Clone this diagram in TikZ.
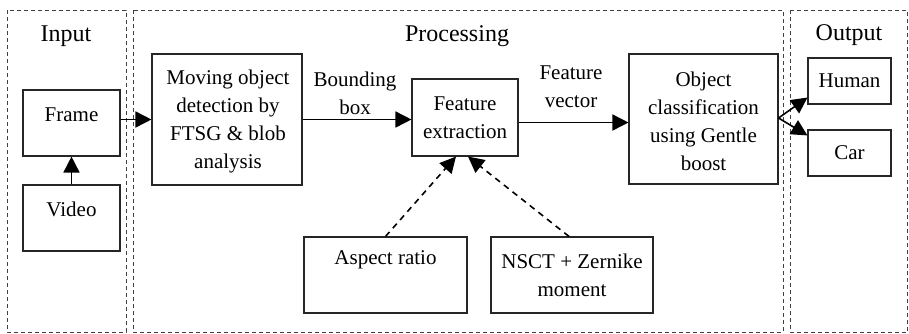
\documentclass[tikz,border=0pt]{standalone}
\usepackage{fontspec}
\setmainfont{Liberation Serif}
\usetikzlibrary{arrows.meta,calc}
\begin{document}
\begin{tikzpicture}[x=1pt,y=1pt,
  stage/.style={draw=black!75,line width=0.8pt,dash pattern=on 4pt off 3pt},
  box/.style={draw=black!85,line width=1.1pt,rectangle,inner sep=0pt,align=center,
    font=\fontsize{21}{28}\selectfont},
  txt/.style={inner sep=0pt,align=center,font=\fontsize{21}{28}\selectfont},
  title/.style={inner sep=0pt,font=\fontsize{24}{28}\selectfont},
  tip/.tip={Triangle[length=16pt,width=16pt]},
  arr/.style={line width=1.6pt,-tip},
  darr/.style={arr,dash pattern=on 6pt off 5pt}]
\useasboundingbox (0,0) rectangle (909,-333);

% stage frames
\draw[stage] (7,-10) rectangle (126,-332);
\draw[stage] (133,-10) rectangle (783,-332);
\draw[stage] (790,-10) rectangle (907.5,-332);
\node[title] (tin) at (66,-36) {Input};
\node[title] (tproc) at (457,-36) {Processing};
\node[title] (tout) at (849,-35) {Output};

% input
\node[box,minimum width=97pt,minimum height=66pt] (frame) at (71.5,-123) {};
\node[txt] (frameT) at (71.5,-115) {Frame};
\node[box,minimum width=97pt,minimum height=66pt] (video) at (71.5,-218) {};
\node[txt] (videoT) at (71.5,-209) {Video};

% processing
\node[box,minimum width=150pt,minimum height=131pt] (mod) at (227,-119.5) {};
\node[txt] (modT) at (228,-121) {Moving object\\detection by\\FTSG \& blob\\analysis};
\node[box,minimum width=106pt,minimum height=77pt] (fe) at (465,-117.5) {};
\node[txt] (feT) at (465,-118) {Feature\\extraction};
\node[box,minimum width=149pt,minimum height=130pt] (oc) at (703.5,-119) {};
\node[txt] (ocT) at (703.5,-121) {Object\\classification\\using Gentle\\boost};
\node[box,minimum width=163pt,minimum height=76pt] (aspect) at (385.5,-275) {};
\node[txt] (aspectT) at (385.5,-260) {Aspect ratio};
\node[box,minimum width=162pt,minimum height=76pt] (nsct) at (572,-275)
  {NSCT + Zernike\\moment};

% output
\node[box,minimum width=83pt,minimum height=46pt] (human) at (849.5,-81) {Human};
\node[box,minimum width=83pt,minimum height=46pt] (car) at (849.5,-153) {Car};

% edge labels
\node[txt] (lbb) at (355,-93) {Bounding\\box};
\node[txt] (lfv) at (571,-87) {Feature\\vector};

% connectors
\draw[arr] (video.north) -- (frame.south);
\draw[arr] (frame.east |- mod.west) -- (mod.west);
\draw[arr] (mod.east) -- (mod.east -| fe.west);
\draw[arr] ([yshift=-5pt]fe.east) -- ([yshift=-5pt]fe.east -| oc.west);
\draw[darr] (aspect.north) -- ([xshift=-9pt]fe.south);
\draw[darr] ([xshift=-3pt]nsct.north) -- ([xshift=3pt]fe.south);
\coordinate (split) at ([yshift=1pt]oc.east);
\draw[arr] (split) -- ([yshift=7pt]human.south west);
\draw[arr] (split) -- ([yshift=-6pt]car.north west);
\end{tikzpicture}
\end{document}
